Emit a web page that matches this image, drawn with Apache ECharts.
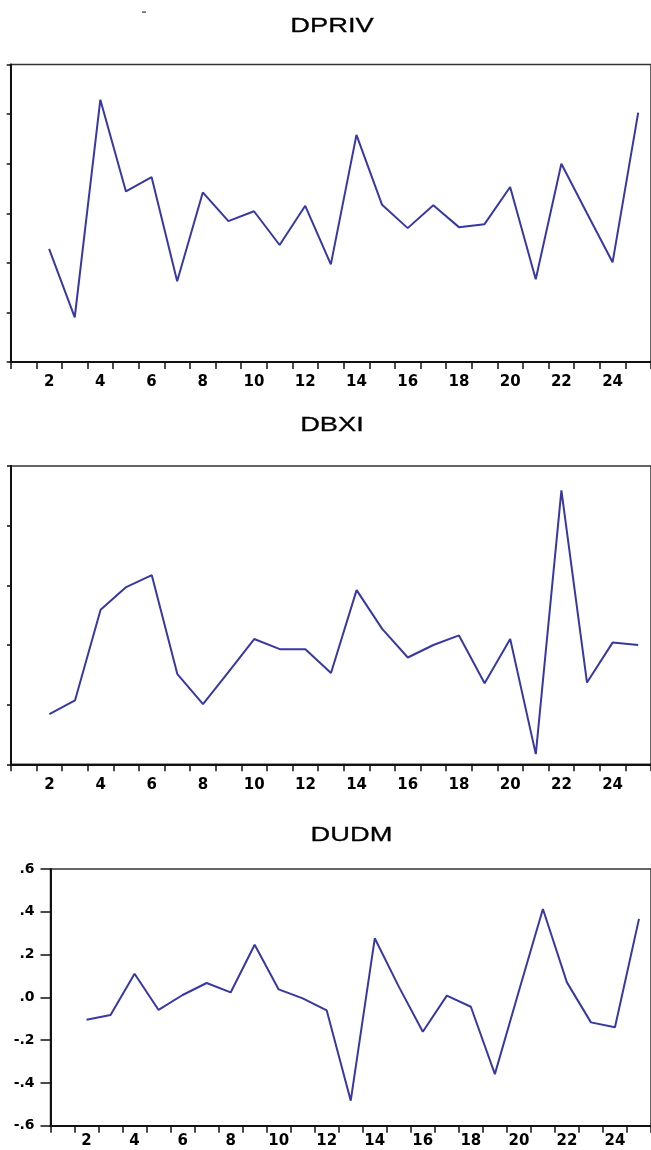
<!DOCTYPE html>
<html><head><meta charset="utf-8">
<script src="https://cdn.jsdelivr.net/npm/echarts/dist/echarts.min.js"></script>
<style>html,body{margin:0;padding:0;background:#fff}#c{width:651px;height:1150px}</style>
</head><body><div id="c"></div>
<script>
const categories = ['1','2','3','4','5','6','7','8','9','10','11','12','13','14','15','16','17','18','19','20','21','22','23','24','25'];
const titles = ['DPRIV', 'DBXI', 'DUDM'];
const dpriv = [null, -0.72, -2.10, 2.29, 0.44, 0.73, -1.37, 0.42, -0.16, 0.04, -0.64, 0.15, -1.03, 1.58, 0.17, -0.30, 0.16, -0.28, -0.22, 0.53, -1.33, 1.00, 0.00, -0.99, 2.03];
const dbxi = [null, 0.84, 1.07, 2.59, 2.97, 3.17, 1.51, 1.01, 1.55, 2.10, 1.93, 1.93, 1.53, 2.92, 2.27, 1.79, 2.00, 2.16, 1.36, 2.10, 0.17, 4.59, 1.37, 2.04, 2.00];
const dudm = [null, -0.105, -0.083, 0.11, -0.059, 0.011, 0.067, 0.023, 0.246, 0.037, -0.005, -0.061, -0.483, 0.276, 0.05, -0.161, 0.008, -0.044, -0.359, 0.03, 0.413, 0.070, -0.117, -0.140, 0.367];
const dudmTickLabels = ['-.6', '-.4', '-.2', '.0', '.2', '.4', '.6'];

const LINE = '#3838a4';
const AX = '#111';
const FONT = 'DejaVu Sans';

function xAxis(i, margin) {
  return {
    type: 'category', gridIndex: i, data: categories, boundaryGap: true,
    axisLine: { show: true, onZero: false, lineStyle: { color: AX, width: 2 } },
    axisTick: { show: true, interval: 0, length: 7, lineStyle: { color: AX, width: 1.5 } },
    axisLabel: { interval: (idx) => idx % 2 === 1, margin: margin, color: '#000', fontFamily: FONT, fontWeight: 'bold', fontSize: 15 },
    splitLine: { show: false }
  };
}
function grid(left, top, width, height) {
  return { left, top, width, height, show: true, borderColor: '#333', borderWidth: 1.5, backgroundColor: 'transparent' };
}
function series(i, data) {
  return { type: 'line', xAxisIndex: i, yAxisIndex: i, data, showSymbol: false, symbol: 'none',
    lineStyle: { color: LINE, width: 2 }, itemStyle: { color: LINE }, connectNulls: false };
}
function title(text, x, y) {
  return { type: 'text', x, y, scaleX: 1.3, scaleY: 1,
    style: { text, fontFamily: 'Liberation Sans', fontSize: 21, fill: '#000', align: 'center', verticalAlign: 'middle',
      stroke: '#000', lineWidth: 0.3 } };
}

const chart = echarts.init(document.getElementById('c'));
chart.setOption({
  animation: false,
  backgroundColor: '#fff',
  grid: [
    grid(10.7, 64.5, 643.5, 297.5),
    grid(11, 466, 643, 298.3),
    grid(50.5, 869, 602.5, 256.7)
  ],
  xAxis: [xAxis(0, 13), xAxis(1, 13), xAxis(2, 8)],
  yAxis: [
    { type: 'value', gridIndex: 0, min: -3, max: 3, interval: 1,
      axisLine: { show: true, onZero: false, lineStyle: { color: AX, width: 2 } },
      axisTick: { show: true, length: 4, lineStyle: { color: AX, width: 1.5 } },
      axisLabel: { show: false }, splitLine: { show: false } },
    { type: 'value', gridIndex: 1, min: 0, max: 5, interval: 1,
      axisLine: { show: true, onZero: false, lineStyle: { color: AX, width: 2 } },
      axisTick: { show: true, length: 4, lineStyle: { color: AX, width: 1.5 } },
      axisLabel: { show: false }, splitLine: { show: false } },
    { type: 'value', gridIndex: 2, min: -0.6, max: 0.6, interval: 0.2,
      axisLine: { show: true, onZero: false, lineStyle: { color: AX, width: 2 } },
      axisTick: { show: true, length: 10, lineStyle: { color: AX, width: 1.5 } },
      axisLabel: { margin: 16, color: '#000', fontFamily: FONT, fontWeight: 'bold', fontSize: 14,
        formatter: (v) => dudmTickLabels[Math.round((v + 0.6) / 0.2)] },
      splitLine: { show: false } }
  ],
  series: [series(0, dpriv), series(1, dbxi), series(2, dudm)],
  graphic: [
    title(titles[0], 332, 26),
    title(titles[1], 332, 425.5),
    title(titles[2], 351.5, 835),
    { type: 'rect', shape: { x: 142, y: 11.5, width: 4, height: 1.2 }, style: { fill: '#333' } }
  ]
});
</script>
</body></html>
